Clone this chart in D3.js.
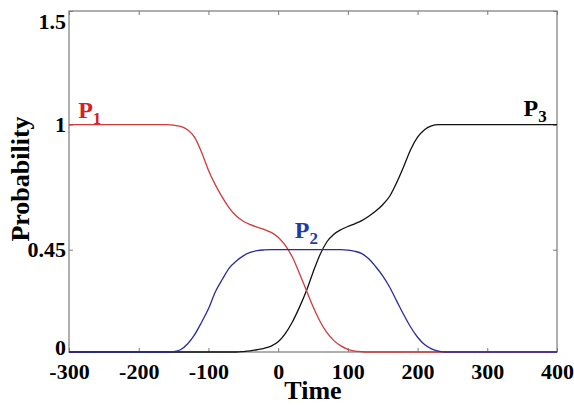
<!DOCTYPE html>
<html>
<head>
<meta charset="utf-8">
<script src="https://cdn.jsdelivr.net/npm/d3@7"></script>
<style>
  body { margin: 0; background: #fff; }
  text { font-family: "Liberation Serif", "Times New Roman", serif; font-weight: bold; }
</style>
</head>
<body>
<svg id="chart"></svg>
<script>
// time samples and the three probability curves
const times = [-300, -200, -160, -150, -140, -130, -120, -110, -100, -90, -80, -70, -60, -50, -40, -30, -20, -10,
  0, 10, 20, 30, 40, 50, 60, 70, 80, 90, 100, 110, 120, 130, 140, 150, 160, 170, 180, 190, 200, 210, 220, 230, 240, 250, 300, 400];

const p1 = [1, 1, 1, 0.998, 0.992, 0.978, 0.945, 0.88, 0.8, 0.735, 0.68, 0.633, 0.598, 0.575, 0.56, 0.549, 0.539, 0.526,
  0.505, 0.47, 0.42, 0.35, 0.275, 0.2, 0.135, 0.085, 0.05, 0.027, 0.012, 0.004, 0.001, 0, 0, 0, 0, 0, 0, 0, 0, 0, 0, 0, 0, 0, 0, 0];

const p2 = [0, 0, 0, 0.002, 0.01, 0.035, 0.075, 0.13, 0.19, 0.265, 0.32, 0.37, 0.4, 0.423, 0.438, 0.446, 0.449, 0.45,
  0.45, 0.45, 0.45, 0.45, 0.45, 0.45, 0.45, 0.45, 0.45, 0.45, 0.448, 0.443, 0.433, 0.41, 0.375, 0.335, 0.285, 0.225, 0.165, 0.11, 0.065, 0.033, 0.014, 0.004, 0, 0, 0, 0];

const p3 = [0, 0, 0, 0, 0, 0, 0, 0, 0, 0, 0, 0, 0, 0.002, 0.005, 0.01, 0.016, 0.026,
  0.045, 0.08, 0.13, 0.193, 0.265, 0.35, 0.428, 0.485, 0.518, 0.538, 0.552, 0.564, 0.578, 0.597, 0.62, 0.648, 0.685, 0.745, 0.815, 0.89, 0.945, 0.978, 0.995, 1, 1, 1, 1, 1];

const xTicks = [-300, -200, -100, 0, 100, 200, 300, 400];
const yTicks = [0, 0.45, 1, 1.5];
const yTickLabels = ["0", "0.45", "1", "1.5"];

const width = 574, height = 410;
const margin = { top: 11, right: 17, bottom: 58, left: 69 };
const w = width - margin.left - margin.right;
const h = height - margin.top - margin.bottom;

const svg = d3.select("#chart").attr("width", width).attr("height", height);
const g = svg.append("g").attr("transform", `translate(${margin.left},${margin.top})`);

const x = d3.scaleLinear().domain([-300, 400]).range([0, w]);
const y = d3.scaleLinear().domain([0, 1.5]).range([h, 0]);

const axisColor = "#7a7a7a";

function styleAxis(sel) {
  sel.select(".domain").remove();
  sel.selectAll(".tick line").attr("stroke", axisColor);
  sel.selectAll(".tick text").attr("fill", "#000").style("font-size", "22px");
}

// bottom axis with labels (plain hyphen minus like the original)
g.append("g")
  .attr("transform", `translate(0,${h})`)
  .call(d3.axisBottom(x).tickValues(xTicks).tickFormat(d => String(d)).tickSizeInner(-4).tickSizeOuter(0).tickPadding(11))
  .call(styleAxis);

// left axis with labels
const yAxisG = g.append("g")
  .call(d3.axisLeft(y).tickValues(yTicks).tickFormat((d, i) => yTickLabels[i]).tickSizeInner(-4).tickSizeOuter(0).tickPadding(3))
  .call(styleAxis);
// top label sits lower in the original, bottom one a touch higher
yAxisG.selectAll(".tick text").filter(d => d === 1.5).attr("dy", "0.78em");
yAxisG.selectAll(".tick text").filter(d => d === 0).attr("dy", "0.12em");

// mirrored ticks on top and right
g.append("g")
  .call(d3.axisTop(x).tickValues(xTicks).tickSizeInner(-4).tickSizeOuter(0).tickFormat(""))
  .call(styleAxis);
g.append("g")
  .attr("transform", `translate(${w},0)`)
  .call(d3.axisRight(y).tickValues(yTicks).tickSizeInner(-4).tickSizeOuter(0).tickFormat(""))
  .call(styleAxis);

g.append("rect")
  .attr("width", w).attr("height", h)
  .attr("fill", "none").attr("stroke", axisColor).attr("stroke-width", 1.2);

const line = d3.line()
  .x(d => x(d[0]))
  .y(d => y(d[1]))
  .curve(d3.curveMonotoneX);

const series = [
  { values: p3, color: "#111111" },
  { values: p1, color: "#d03a3a" },
  { values: p2, color: "#2a2aa0" }
];

series.forEach(s => {
  g.append("path")
    .datum(times.map((t, i) => [t, s.values[i]]))
    .attr("d", line)
    .attr("fill", "none")
    .attr("stroke", s.color)
    .attr("stroke-width", 1.3);
});

// curve labels
function label(px, py, sub, color) {
  const t = svg.append("text")
    .attr("x", px).attr("y", py)
    .attr("fill", color)
    .style("font-size", "24px");
  t.append("tspan").text("P");
  t.append("tspan").text(sub).attr("dy", 6).style("font-size", "17px");
}
label(x(-284) + margin.left - 2, margin.top + y(1.03), "1", "#d42222");
label(x(24) + margin.left, margin.top + y(0.5), "2", "#1f3ca6");
label(x(352) + margin.left, margin.top + y(1.04), "3", "#000");

// axis titles
svg.append("text")
  .attr("x", margin.left + x(50))
  .attr("y", 399)
  .attr("text-anchor", "middle")
  .style("font-size", "26px")
  .text("Time");

svg.append("text")
  .attr("transform", "translate(29,179) rotate(-90)")
  .attr("text-anchor", "middle")
  .style("font-size", "26px")
  .text("Probability");
</script>
</body>
</html>
